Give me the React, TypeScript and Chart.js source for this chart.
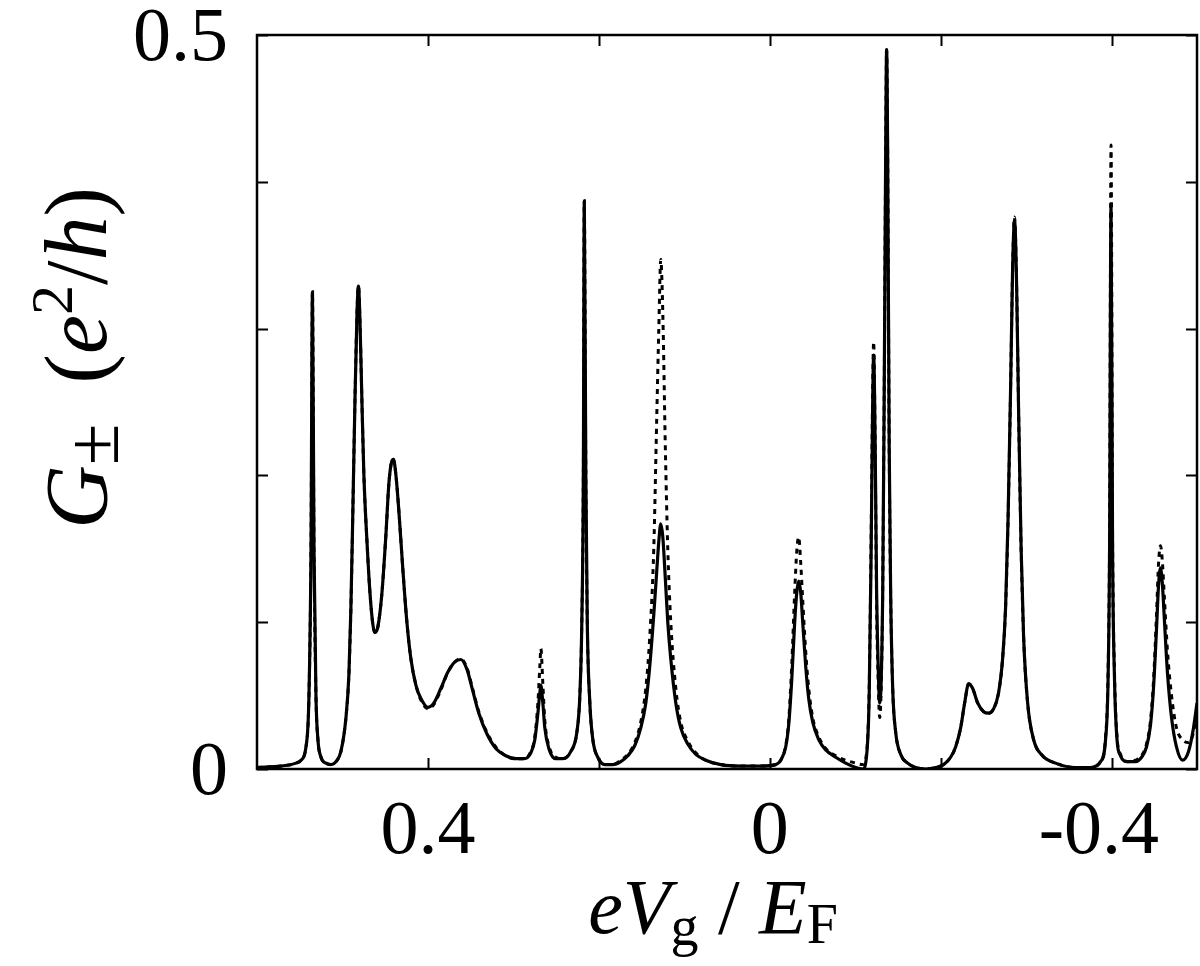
import React, { useEffect, useRef } from 'react';
import { Chart, registerables } from 'chart.js';

Chart.register(...registerables);

// eV_g / E_F (x axis, reversed: 0.6 on the left, -0.5 on the right)
const gateVoltage = [
  0.6, 0.5719, 0.5544, 0.5485, 0.5427, 0.5392, 0.5368, 0.5351, 0.5333, 0.531,
  0.5287, 0.5251, 0.5193, 0.5135, 0.5076, 0.5018, 0.4959, 0.4924, 0.4901, 0.4877,
  0.4854, 0.483, 0.4813, 0.4795, 0.4772, 0.4749, 0.4713, 0.4678, 0.4643, 0.462,
  0.4585, 0.4538, 0.4491, 0.4456, 0.4421, 0.4404, 0.4374, 0.4339, 0.4292, 0.4246,
  0.4199, 0.414, 0.4082, 0.4, 0.393, 0.3848, 0.3766, 0.3684, 0.3614, 0.3544,
  0.3474, 0.3404, 0.331, 0.3205, 0.3088, 0.2971, 0.2877, 0.2795, 0.2749, 0.2713,
  0.269, 0.2678, 0.2655, 0.2632, 0.2585, 0.2503, 0.2421, 0.2327, 0.2257, 0.2222,
  0.2199, 0.2181, 0.217, 0.2152, 0.2135, 0.2105, 0.207, 0.2012, 0.193, 0.1836,
  0.1743, 0.1661, 0.1579, 0.1509, 0.145, 0.1404, 0.1357, 0.1322, 0.1298, 0.1275,
  0.1251, 0.1222, 0.1193, 0.1158, 0.1099, 0.1041, 0.0959, 0.0865, 0.0749, 0.0573,
  0.0339, 0.0105, -0.007, -0.0129, -0.0187, -0.0222, -0.0257, -0.0292, -0.0316, -0.0339,
  -0.0363, -0.0386, -0.0421, -0.0456, -0.0503, -0.0573, -0.0655, -0.0772, -0.0889, -0.1006,
  -0.1088, -0.1135, -0.1164, -0.1187, -0.1205, -0.1216, -0.1234, -0.1251, -0.1269, -0.1287,
  -0.1304, -0.1322, -0.1339, -0.1357, -0.1368, -0.138, -0.1398, -0.1415, -0.1439, -0.1474,
  -0.1532, -0.1614, -0.1708, -0.1825, -0.1942, -0.2035, -0.2117, -0.2175, -0.2234, -0.2281,
  -0.2327, -0.2374, -0.2433, -0.2503, -0.2561, -0.262, -0.2678, -0.2725, -0.276, -0.2789,
  -0.2819, -0.2842, -0.2865, -0.2889, -0.2912, -0.2942, -0.2971, -0.3018, -0.3088, -0.3193,
  -0.3345, -0.3579, -0.3754, -0.3871, -0.393, -0.3959, -0.3977, -0.3994, -0.4012, -0.4035,
  -0.4064, -0.4105, -0.4187, -0.4281, -0.4351, -0.4409, -0.4456, -0.4491, -0.4526, -0.455,
  -0.4573, -0.4596, -0.462, -0.4655, -0.4702, -0.476, -0.483, -0.4901, -0.4959, -0.5,
];

// solid curve, G (e^2/h)
const conductanceSolid = [
  0.001, 0.002, 0.004, 0.006, 0.015, 0.05, 0.15, 0.325, 0.15, 0.05,
  0.02, 0.008, 0.004, 0.003, 0.005, 0.012, 0.035, 0.065, 0.11, 0.18,
  0.25, 0.31, 0.329, 0.305, 0.25, 0.2, 0.155, 0.12, 0.098, 0.093,
  0.097, 0.12, 0.16, 0.195, 0.21, 0.211, 0.2, 0.175, 0.135, 0.1,
  0.075, 0.057, 0.048, 0.042, 0.045, 0.055, 0.066, 0.073, 0.0746, 0.068,
  0.053, 0.038, 0.024, 0.014, 0.009, 0.007, 0.007, 0.011, 0.02, 0.038,
  0.052, 0.057, 0.045, 0.028, 0.014, 0.007, 0.007, 0.012, 0.025, 0.05,
  0.1, 0.2, 0.387, 0.2, 0.1, 0.045, 0.02, 0.008, 0.003, 0.003,
  0.005, 0.009, 0.016, 0.028, 0.045, 0.07, 0.105, 0.135, 0.155, 0.167,
  0.158, 0.13, 0.1, 0.075, 0.045, 0.028, 0.017, 0.01, 0.006, 0.003,
  0.002, 0.002, 0.003, 0.006, 0.015, 0.03, 0.06, 0.1, 0.12, 0.128,
  0.12, 0.1, 0.07, 0.048, 0.032, 0.02, 0.013, 0.008, 0.004, 0.001,
  0.0, 0.01, 0.05, 0.15, 0.25, 0.282, 0.22, 0.12, 0.07, 0.045,
  0.06, 0.12, 0.25, 0.42, 0.49, 0.42, 0.22, 0.12, 0.055, 0.025,
  0.01, 0.004, 0.001, 0.0, 0.001, 0.003, 0.008, 0.015, 0.028, 0.045,
  0.058, 0.055, 0.045, 0.039, 0.038, 0.041, 0.052, 0.075, 0.11, 0.17,
  0.26, 0.34, 0.374, 0.33, 0.245, 0.15, 0.09, 0.045, 0.02, 0.009,
  0.004, 0.001, 0.001, 0.005, 0.02, 0.06, 0.15, 0.384, 0.15, 0.06,
  0.02, 0.009, 0.005, 0.005, 0.008, 0.015, 0.03, 0.055, 0.095, 0.125,
  0.137, 0.125, 0.1, 0.065, 0.035, 0.015, 0.006, 0.012, 0.028, 0.045,
];

// dotted curve, G (e^2/h)
const conductanceDotted = [
  0.001, 0.002, 0.004, 0.006, 0.015, 0.05, 0.15, 0.325, 0.15, 0.05,
  0.02, 0.008, 0.004, 0.003, 0.005, 0.012, 0.035, 0.065, 0.11, 0.18,
  0.25, 0.31, 0.329, 0.305, 0.25, 0.2, 0.155, 0.12, 0.098, 0.093,
  0.097, 0.12, 0.16, 0.195, 0.21, 0.211, 0.2, 0.175, 0.135, 0.1,
  0.075, 0.057, 0.047, 0.041, 0.044, 0.054, 0.066, 0.073, 0.075, 0.069,
  0.054, 0.039, 0.025, 0.015, 0.009, 0.007, 0.007, 0.012, 0.022, 0.045,
  0.07, 0.082, 0.058, 0.033, 0.016, 0.008, 0.007, 0.012, 0.025, 0.05,
  0.1, 0.2, 0.387, 0.2, 0.1, 0.045, 0.02, 0.008, 0.003, 0.003,
  0.006, 0.01, 0.018, 0.032, 0.055, 0.09, 0.15, 0.24, 0.3, 0.347,
  0.31, 0.22, 0.15, 0.1, 0.055, 0.032, 0.019, 0.011, 0.006, 0.003,
  0.002, 0.002, 0.003, 0.006, 0.016, 0.033, 0.07, 0.12, 0.148, 0.158,
  0.14, 0.115, 0.08, 0.055, 0.035, 0.022, 0.014, 0.009, 0.006, 0.004,
  0.003, 0.012, 0.055, 0.16, 0.26, 0.291, 0.22, 0.11, 0.06, 0.035,
  0.055, 0.12, 0.25, 0.42, 0.49, 0.42, 0.22, 0.12, 0.055, 0.025,
  0.01, 0.004, 0.001, 0.0, 0.001, 0.003, 0.008, 0.015, 0.028, 0.045,
  0.058, 0.055, 0.045, 0.039, 0.038, 0.041, 0.052, 0.075, 0.11, 0.17,
  0.26, 0.34, 0.376, 0.33, 0.245, 0.15, 0.09, 0.045, 0.02, 0.009,
  0.004, 0.001, 0.001, 0.005, 0.022, 0.065, 0.16, 0.425, 0.16, 0.065,
  0.022, 0.01, 0.005, 0.006, 0.009, 0.017, 0.033, 0.06, 0.105, 0.14,
  0.152, 0.14, 0.115, 0.08, 0.05, 0.028, 0.02, 0.018, 0.025, 0.04,
];

const xTickValues = [0.4, 0.2, 0, -0.2, -0.4];
const xTickLabels = ['0.4', '', '0', '', '-0.4'];
const yTickValues = [0, 0.1, 0.2, 0.3, 0.4, 0.5];
const yTickLabels = ['0', '', '', '', '', '0.5'];

const SERIF = '"Liberation Serif", "Times New Roman", Times, serif';

type Part = { t: string; italic?: boolean; size: number; dy?: number };

function drawRich(ctx: CanvasRenderingContext2D, parts: Part[], cx: number, baseline: number) {
  const fontOf = (p: Part) => `${p.italic ? 'italic ' : ''}${p.size}px ${SERIF}`;
  const widths = parts.map((p) => {
    ctx.font = fontOf(p);
    return ctx.measureText(p.t).width;
  });
  const total = widths.reduce((a, b) => a + b, 0);
  let x = cx - total / 2;
  ctx.textAlign = 'left';
  ctx.textBaseline = 'alphabetic';
  parts.forEach((p, i) => {
    ctx.font = fontOf(p);
    ctx.fillText(p.t, x, baseline + (p.dy || 0));
    x += widths[i];
  });
}

const framePlugin = {
  id: 'framePlugin',
  afterDraw(chart: any) {
    const { ctx, chartArea: a, scales } = chart;
    const sx = scales.x;
    const sy = scales.y;
    ctx.save();
    ctx.strokeStyle = '#000';
    ctx.fillStyle = '#000';
    ctx.lineWidth = 2.5;
    ctx.strokeRect(a.left, a.top, a.right - a.left, a.bottom - a.top);
    ctx.lineWidth = 2;
    const L = 11;
    ctx.beginPath();
    xTickValues.forEach((v) => {
      const px = Math.round(sx.getPixelForValue(v)) + 0.5;
      ctx.moveTo(px, a.bottom);
      ctx.lineTo(px, a.bottom - L);
      ctx.moveTo(px, a.top);
      ctx.lineTo(px, a.top + L);
    });
    yTickValues.forEach((v) => {
      const py = Math.round(sy.getPixelForValue(v)) + 0.5;
      ctx.moveTo(a.left, py);
      ctx.lineTo(a.left + L, py);
      ctx.moveTo(a.right, py);
      ctx.lineTo(a.right - L, py);
    });
    ctx.stroke();

    // tick labels (numeric part centred on the tick, sign hanging to the left)
    ctx.font = `76px ${SERIF}`;
    ctx.textBaseline = 'alphabetic';
    ctx.textAlign = 'right';
    xTickValues.forEach((v, i) => {
      const lab = xTickLabels[i];
      if (!lab) return;
      const unsigned = lab.replace('-', '');
      const half = ctx.measureText(unsigned).width / 2;
      ctx.fillText(lab, sx.getPixelForValue(v) + half, 853);
    });
    ctx.textAlign = 'right';
    yTickValues.forEach((v, i) => {
      if (!yTickLabels[i]) return;
      ctx.fillText(yTickLabels[i], a.left - 29, sy.getPixelForValue(v) + 25);
    });

    // x axis title: eV_g / E_F
    drawRich(
      ctx,
      [
        { t: 'e', italic: true, size: 78 },
        { t: 'V', italic: true, size: 78 },
        { t: 'g', size: 56, dy: 12 },
        { t: ' / ', size: 78 },
        { t: 'E', italic: true, size: 78 },
        { t: 'F', size: 56, dy: 10 },
      ],
      713,
      933
    );

    // y axis title: G± (e²/h)
    ctx.save();
    ctx.translate(106, 358);
    ctx.rotate(-Math.PI / 2);
    drawRich(
      ctx,
      [
        { t: 'G', italic: true, size: 88 },
        { t: '\u00B1', size: 76, dy: 12 },
        { t: '  ', size: 80 },
        { t: '(', size: 88 },
        { t: 'e', italic: true, size: 88 },
        { t: '2', size: 60, dy: -34 },
        { t: '/', size: 88 },
        { t: 'h', italic: true, size: 88 },
        { t: ')', size: 88 },
      ],
      0,
      0
    );
    ctx.restore();
    ctx.restore();
  },
};

export default function App() {
  const canvasRef = useRef<HTMLCanvasElement | null>(null);

  useEffect(() => {
    const canvas = canvasRef.current;
    if (!canvas) return;
    const solidData = gateVoltage.map((x, i) => ({ x, y: conductanceSolid[i] }));
    const dottedData = gateVoltage.map((x, i) => ({ x, y: conductanceDotted[i] }));
    const chart = new Chart(canvas, {
      type: 'line',
      data: {
        datasets: [
          {
            label: 'solid',
            data: solidData,
            borderColor: '#000',
            borderWidth: 3.2,
            pointRadius: 0,
            cubicInterpolationMode: 'monotone',
            fill: false,
          },
          {
            label: 'dotted',
            data: dottedData,
            borderColor: '#000',
            borderWidth: 3,
            borderDash: [5, 5],
            pointRadius: 0,
            cubicInterpolationMode: 'monotone',
            fill: false,
          },
        ],
      },
      options: {
        animation: false,
        responsive: true,
        maintainAspectRatio: false,
        devicePixelRatio: 1,
        layout: { padding: { left: 257, right: 3, top: 35, bottom: 197 } },
        plugins: { legend: { display: false }, tooltip: { enabled: false } },
        events: [],
        scales: {
          x: { type: 'linear', min: -0.5, max: 0.6, reverse: true, display: false },
          y: { type: 'linear', min: 0, max: 0.5, display: false },
        },
      },
      plugins: [framePlugin],
    });
    return () => chart.destroy();
  }, []);

  return (
    <div style={{ position: 'fixed', left: 0, top: 0, width: 1200, height: 966, background: '#fff' }}>
      <canvas ref={canvasRef} />
    </div>
  );
}
